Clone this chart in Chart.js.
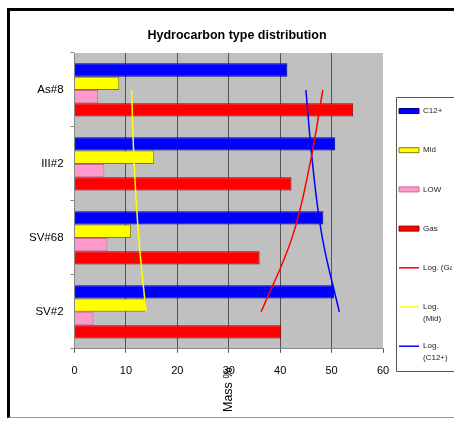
<!DOCTYPE html>
<html><head><meta charset="utf-8">
<script src="https://cdn.jsdelivr.net/npm/chart.js@4.4.1/dist/chart.umd.min.js"></script>
<style>
html,body{margin:0;padding:0;background:#fff;overflow:hidden;width:454px;height:421px;}
#frame{position:absolute;left:7px;top:8px;border-left:3px solid #000;border-top:3px solid #000;border-bottom:1px solid #999;width:470px;height:406px;overflow:hidden;background:#fff}
canvas{display:block}
</style></head><body>
<div id="frame"><canvas id="c" width="452" height="406"></canvas></div>
<script>
// ---- data ----
const categories = ['As#8', 'III#2', 'SV#68', 'SV#2'];
const c12 = [41.4, 50.7, 48.4, 50.5];
const mid = [8.7, 15.5, 11.0, 13.9];
const low = [4.6, 5.8, 6.4, 3.7];
const gas = [54.2, 42.2, 36.0, 40.2];
const logGas = [48.3, 45.8, 42.3, 36.3];
const logMid = [11.1, 11.6, 12.5, 13.9];
const logC12 = [45.0, 46.3, 48.2, 51.5];
const xTicks = [0, 10, 20, 30, 40, 50, 60];
const titleText = 'Hydrocarbon type distribution';
const xTitle = 'Mass %';
const seriesNames = ['C12+', 'Mid', 'LOW', 'Gas', 'Log. (Gas)', 'Log.\n(Mid)', 'Log.\n(C12+)'];

const FONT = "'Liberation Sans', Arial, sans-serif";
Chart.defaults.font.family = FONT;
Chart.defaults.color = '#000';

const bar = (label, data, bg, border) => ({
  type: 'bar', label, data, backgroundColor: bg, borderColor: border, borderWidth: 1,
  pointStyle: 'rect', order: 1, categoryPercentage: 0.72, barPercentage: 1.0
});
const line = (label, data, color) => ({
  type: 'line', label, data, borderColor: color, backgroundColor: color, borderWidth: 1.5,
  pointRadius: 0, pointStyle: 'line', tension: 0.4, fill: false, order: 0
});

const plotBg = {
  id: 'plotBg',
  beforeDraw(chart) {
    const {ctx, chartArea: a} = chart;
    ctx.save(); ctx.fillStyle = '#c0c0c0';
    ctx.fillRect(a.left, a.top, a.right - a.left, a.bottom - a.top);
    ctx.restore();
  }
};
const extras = {
  id: 'extras',
  afterDraw(chart) {
    const {ctx, chartArea: a} = chart;
    ctx.save();
    ctx.translate((a.left + a.right) / 2, a.bottom + 41);
    ctx.rotate(-Math.PI / 2);
    ctx.textAlign = 'center'; ctx.textBaseline = 'middle';
    ctx.fillStyle = '#000'; ctx.font = "12.5px " + FONT;
    ctx.fillText(xTitle, 0, 0);
    ctx.restore();
    // legend frame: its right side lies beyond the visible page
    const lg = chart.legend, hb = lg.legendHitBoxes;
    if (hb && hb.length) {
      const last = hb[hb.length - 1];
      const t = Math.round(hb[0].top - 10) + 0.5;
      const b = Math.round(last.top + last.height + 6) + 0.5;
      const l = Math.round(lg.left + 13) + 0.5;
      const r = chart.width + 20;
      ctx.save(); ctx.strokeStyle = '#555'; ctx.lineWidth = 1;
      ctx.beginPath();
      ctx.moveTo(r, t); ctx.lineTo(l, t); ctx.lineTo(l, b); ctx.lineTo(r, b);
      ctx.stroke();
      ctx.restore();
    }
  }
};

new Chart(document.getElementById('c'), {
  data: {
    labels: categories,
    datasets: [
      bar(seriesNames[0], c12, '#0000ff', '#000080'),
      bar(seriesNames[1], mid, '#ffff00', '#808000'),
      bar(seriesNames[2], low, '#ff99cc', '#cc6699'),
      bar(seriesNames[3], gas, '#ff0000', '#990000'),
      line(seriesNames[4], logGas, '#ff0000'),
      line(seriesNames[5], logMid, '#ffff00'),
      line(seriesNames[6], logC12, '#0000ff')
    ]
  },
  options: {
    indexAxis: 'y',
    responsive: false,
    animation: false,
    devicePixelRatio: 1,
    layout: {padding: {left: 12, right: 10, top: 0, bottom: 27}},
    plugins: {
      title: {display: true, text: titleText, color: '#000',
        font: {size: 12.5, weight: 'bold'}, padding: {top: 17.5, bottom: 9.5}},
      tooltip: {enabled: false},
      legend: {
        position: 'right', maxWidth: 69, align: 'start',
        title: {display: true, text: '', font: {size: 8}, padding: {top: 70.4, bottom: 0}},
        labels: {
          usePointStyle: true, pointStyleWidth: 20, boxHeight: 5, padding: 16,
          font: {size: 8, lineHeight: 1.45}, color: '#222',
          sort: (a, b) => a.datasetIndex - b.datasetIndex,
          generateLabels(chart) {
            return Chart.defaults.plugins.legend.labels.generateLabels(chart).map(it => {
              const l = String(it.text).split('\n');
              while (l.length < 2) l.push('');
              it.text = l; return it;
            });
          }
        }
      }
    },
    scales: {
      x: {
        min: xTicks[0], max: xTicks[xTicks.length - 1],
        ticks: {stepSize: xTicks[1] - xTicks[0], padding: 12, font: {size: 11}, color: '#000'},
        grid: {color: c => (c.tick && c.tick.value === xTicks[xTicks.length - 1]) ? 'rgba(0,0,0,0)' : '#555',
               tickColor: '#555', tickLength: 4},
        border: {color: '#888'}
      },
      y: {
        ticks: {padding: 7, font: {size: 11.5}, color: '#000'},
        grid: {drawOnChartArea: false, tickLength: 4, color: '#888', offset: true},
        border: {color: '#888'}
      }
    }
  },
  plugins: [plotBg, extras]
});
</script>
</body></html>
